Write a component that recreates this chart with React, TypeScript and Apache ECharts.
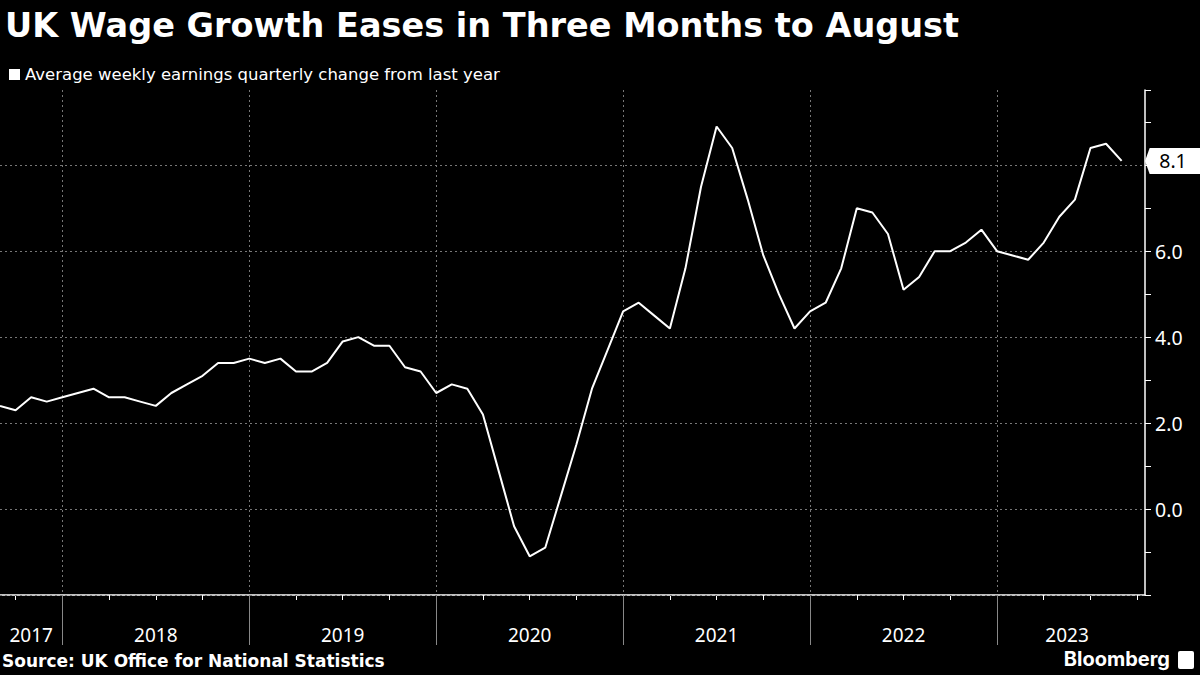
import { useEffect, useRef } from "react";
import * as echarts from "echarts";

// month-end points, Aug 2017 .. Aug 2023 (index 0 = end of Aug 2017)
const values = [
  2.4, 2.3, 2.6, 2.5, 2.6, 2.7, 2.8, 2.6, 2.6, 2.5, 2.4, 2.7, 2.9, 3.1, 3.4, 3.4,
  3.5, 3.4, 3.5, 3.2, 3.2, 3.4, 3.9, 4.0, 3.8, 3.8, 3.3, 3.2, 2.7, 2.9, 2.8, 2.2,
  0.9, -0.4, -1.1, -0.9, 0.3, 1.5, 2.8, 3.7, 4.6, 4.8, 4.5, 4.2, 5.6, 7.5, 8.9, 8.4,
  7.2, 5.9, 5.0, 4.2, 4.6, 4.8, 5.6, 7.0, 6.9, 6.4, 5.1, 5.4, 6.0, 6.0, 6.2, 6.5,
  6.0, 5.9, 5.8, 6.2, 6.8, 7.2, 8.4, 8.5, 8.1,
];
const yearLabelPos = [2, 10, 22, 34, 46, 58, 68.5];
const yearLabels = ["2017", "2018", "2019", "2020", "2021", "2022", "2023"];
const yearStarts = [4, 16, 28, 40, 52, 64];
const quarterTicks = [1, 4, 7, 10, 13, 16, 19, 22, 25, 28, 31, 34, 37, 40, 43, 46, 49, 52, 55, 58, 61, 64, 67, 70, 73];
const gridValues = [-2, 0, 2, 4, 6, 8];
const yLabelValues = [0, 2, 4, 6];
const lastValue = 8.1;

export default function App() {
  const chartRef = useRef<HTMLDivElement>(null);

  useEffect(() => {
    if (!chartRef.current) return;
    const chart = echarts.init(chartRef.current, undefined, { renderer: "svg" });
    const xMax = 73.5;
    const label = "Noto Sans";

    const option: any = {
      animation: false,
      backgroundColor: "#000",
      title: {
        text: "UK Wage Growth Eases in Three Months to August",
        left: 0,
        top: 3,
        textStyle: { color: "#fff", fontSize: 33.5, fontWeight: "bold", fontFamily: "DejaVu Sans" },
      },
      legend: {
        left: 4,
        top: 61,
        icon: "rect",
        itemWidth: 11,
        itemHeight: 11,
        itemGap: 4,
        textStyle: { color: "#fff", fontSize: 16.5, fontFamily: "DejaVu Sans" },
        data: ["Average weekly earnings quarterly change from last year"],
      },
      graphic: [
        {
          type: "text",
          left: 2,
          top: 652,
          style: { text: "Source: UK Office for National Statistics", fill: "#fff", fontSize: 17, fontWeight: "bold", fontFamily: "DejaVu Sans" },
        },
        {
          type: "text",
          right: 30,
          top: 649,
          style: { text: "Bloomberg", fill: "#fff", fontSize: 20, fontWeight: "bold", fontFamily: "Inter" },
        },
        {
          type: "rect",
          right: 6,
          top: 651,
          shape: { width: 16, height: 18, r: 2 },
          style: { fill: "#fff" },
        },
      ],
      grid: { left: 0, right: 55, top: 90, bottom: 80 },
      xAxis: [
        {
          type: "value",
          min: 0,
          max: xMax,
          axisLine: { show: true, onZero: false, lineStyle: { color: "#fff", width: 1.5 } },
          axisTick: { show: true, customValues: quarterTicks, length: 5, lineStyle: { color: "#fff" } },
          axisLabel: {
            customValues: yearLabelPos,
            margin: 30,
            color: "#fff",
            fontSize: 19,
            fontFamily: label,
            formatter: (v: number) => yearLabels[yearLabelPos.indexOf(v)] ?? "",
          },
          splitLine: { show: false },
        },
        {
          type: "value",
          position: "bottom",
          min: 0,
          max: xMax,
          axisLine: { show: false, onZero: false },
          axisTick: { show: true, customValues: yearStarts, length: 50, lineStyle: { color: "#888" } },
          axisLabel: { show: false, customValues: yearStarts },
          splitLine: { show: true, lineStyle: { color: "#777", type: [2, 3] } },
        },
      ],
      yAxis: [
        {
          type: "value",
          position: "right",
          min: -2,
          max: 9.75,
          interval: 1,
          axisLine: { show: true, onZero: false, lineStyle: { color: "#fff", width: 1.5 } },
          axisTick: { show: true, length: 6, lineStyle: { color: "#fff" } },
          axisLabel: {
            customValues: yLabelValues,
            color: "#fff",
            fontSize: 19.5,
            fontFamily: label,
            margin: 10,
            formatter: (v: number) => v.toFixed(1),
          },
          splitLine: { show: false },
        },
      ],
      series: [
        {
          name: "Average weekly earnings quarterly change from last year",
          type: "line",
          data: values.map((v, i) => [i, v]),
          showSymbol: false,
          itemStyle: { color: "#fff" },
          lineStyle: { color: "#fff", width: 2 },
          z: 5,
          markLine: {
            silent: true,
            symbol: "none",
            label: { show: false },
            lineStyle: { color: "#777", type: [2, 3], width: 1 },
            data: gridValues.map((v) => ({ yAxis: v })),
          },
          markPoint: {
            silent: true,
            data: [
              {
                coord: [xMax, lastValue],
                symbol: "path://M0,5 L4,0 L48,0 L48,10 L4,10 Z",
                symbolSize: [56, 26],
                symbolKeepAspect: false,
                symbolOffset: [28, 0],
                itemStyle: { color: "#fff" },
                label: {
                  show: true,
                  position: "inside",
                  formatter: lastValue.toFixed(1),
                  color: "#000",
                  fontSize: 19.5,
                  fontFamily: label,
                },
              },
            ],
          },
        },
      ],
    };

    chart.setOption(option);
    return () => {
      chart.dispose();
    };
  }, []);

  return (
    <div
      ref={chartRef}
      style={{ position: "fixed", left: 0, top: 0, width: "1200px", height: "675px", background: "#000" }}
    />
  );
}
